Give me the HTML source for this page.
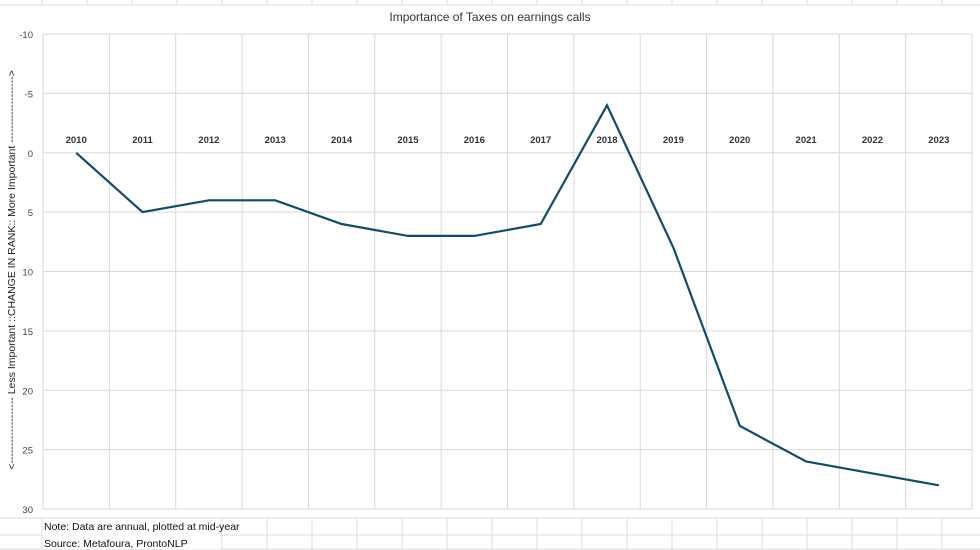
<!DOCTYPE html>
<html><head><meta charset="utf-8"><style>
body{margin:0;background:#fff;}
svg{display:block;font-family:"Liberation Sans",Arial,sans-serif;}
</style></head><body>
<svg id="c" width="980" height="550">
<g id="sheet"></g>
<text x="490" y="21" text-anchor="middle" font-size="12" fill="#333">Importance of Taxes on earnings calls</text>
<g id="grid"></g>
<g id="yt"></g>
<g id="xl"></g>
<text transform="translate(15,270) rotate(-90)" text-anchor="middle" font-size="10.5" fill="#222">&lt;------------------- Less Important ::CHANGE IN RANK::  More Important -------------------&gt;</text>
<path id="line" fill="none" stroke="#0f4c6e" stroke-width="2.2" stroke-linejoin="miter"/>
<text x="44" y="530" font-size="10.5" fill="#111">Note: Data are annual, plotted at mid-year</text>
<text x="44" y="547" font-size="10.5" fill="#111">Source: Metafoura, ProntoNLP</text>
</svg>
<script>
const years=["2010","2011","2012","2013","2014","2015","2016","2017","2018","2019","2020","2021","2022","2023"];
const rankChange=[0,5,4,4,6,7,7,6,-4,8,23,26,27,28];
const yTicks=[-10,-5,0,5,10,15,20,25,30];
const NS="http://www.w3.org/2000/svg";
const L=43,R=972,T=34,B=509;
const band=(R-L)/years.length;
const x=i=>L+band*(i+0.5);
const y=v=>T+(v+10)/40*(B-T);
function mk(p,tag,a){const e=document.createElementNS(NS,tag);for(const k in a)e.setAttribute(k,a[k]);p.appendChild(e);return e;}
const sheet=document.getElementById('sheet');
for(let cx=42;cx<980;cx+=45){
 const l=mk(sheet,'line',{x1:cx,x2:cx,y1:0,y2:5,stroke:'#ddd'});
 
 
 const l2=mk(sheet,'line',{x1:cx,x2:cx,y1:518,y2:550,stroke:'#ddd'});
 
 
}
[5,518,535,549].forEach(yy=>{const l=mk(sheet,'line',{x1:0,x2:980,y1:yy,y2:yy,stroke:'#ddd'});
 
 });
mk(sheet,'rect',{x:43,y:519,width:177,height:30,fill:'#fff'});
const grid=document.getElementById('grid'),yt=document.getElementById('yt'),xl=document.getElementById('xl');
yTicks.forEach(v=>{
 const l=mk(grid,'line',{x1:L,x2:R,y1:y(v),y2:y(v),stroke:'#d9d9d9'});
 
 
 const t=mk(yt,'text',{x:33,y:y(v)+4,'text-anchor':'end','font-size':'9.5',fill:'#444'});
 t.textContent=v;
 
 
});
for(let i=0;i<=years.length;i++){
 const l=mk(grid,'line',{x1:L+band*i,x2:L+band*i,y1:T,y2:B,stroke:'#d9d9d9'});
 
 
}
years.forEach((yr,i)=>{
 const t=mk(xl,'text',{x:x(i),y:y(0)-10,'text-anchor':'middle','font-size':'9.5','font-weight':'bold',fill:'#333'});
 t.textContent=yr;
 
 
});
document.getElementById('line').setAttribute('d',rankChange.map((v,i)=>(i?'L':'M')+x(i).toFixed(1)+','+y(v).toFixed(1)).join(''));
</script>
</body></html>
